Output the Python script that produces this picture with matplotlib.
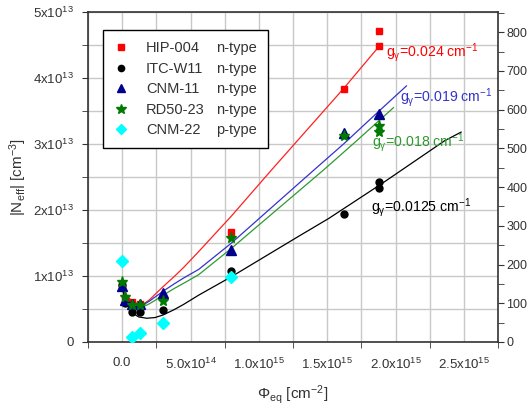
import matplotlib
matplotlib.use("Agg")
import matplotlib.pyplot as plt
from matplotlib.lines import Line2D
from matplotlib.ticker import MultipleLocator, FixedLocator, FixedFormatter

plt.rcParams["font.family"] = ["Liberation Sans", "DejaVu Sans"]
plt.rcParams["mathtext.fontset"] = "custom"
plt.rcParams["mathtext.rm"] = "Liberation Sans"
plt.rcParams["mathtext.it"] = "Liberation Sans:italic"
plt.rcParams["mathtext.default"] = "rm"

# measured points (fluence in cm^-2, |Neff| in cm^-3)
hip_x = [0, 2e13, 7e13, 1.3e14, 3.0e14, 8.0e14, 1.62e15, 1.88e15, 1.88e15]
hip_y = [0.87e13, 0.66e13, 0.60e13, 0.58e13, 0.68e13, 1.67e13, 3.84e13, 4.48e13, 4.71e13]

itc_x = [0, 2e13, 7e13, 1.3e14, 3.0e14, 8.0e14, 1.62e15, 1.88e15, 1.88e15]
itc_y = [0.86e13, 0.59e13, 0.46e13, 0.46e13, 0.49e13, 1.07e13, 1.94e13, 2.34e13, 2.42e13]

cnm11_x = [0, 2e13, 7e13, 1.3e14, 3.0e14, 8.0e14, 1.62e15, 1.88e15]
cnm11_y = [0.85e13, 0.64e13, 0.57e13, 0.57e13, 0.74e13, 1.40e13, 3.17e13, 3.45e13]

rd50_x = [0, 2e13, 7e13, 1.3e14, 3.0e14, 8.0e14, 1.62e15, 1.88e15, 1.88e15]
rd50_y = [0.91e13, 0.68e13, 0.56e13, 0.56e13, 0.62e13, 1.57e13, 3.12e13, 3.27e13, 3.18e13]

cnm22_x = [0, 7e13, 1.3e14, 3.0e14, 8.0e14]
cnm22_y = [1.23e13, 0.08e13, 0.14e13, 0.29e13, 0.98e13]

# fitted curves
fit_red_x = [0, 3e13, 7e13, 1.2e14, 1.6e14, 2.0e14, 2.4e14, 3.0e14, 3.8e14, 4.5e14, 5.6e14, 8.0e14, 1.09e15, 1.62e15, 1.88e15]
fit_red_y = [0.88e13, 0.72e13, 0.62e13, 0.57e13, 0.58e13, 0.64e13, 0.72e13, 0.84e13, 0.99e13, 1.13e13, 1.37e13, 1.91e13, 2.60e13, 3.84e13, 4.48e13]

fit_blue_x = [0, 3e13, 7e13, 1.2e14, 1.6e14, 2.0e14, 2.4e14, 3.0e14, 3.8e14, 4.5e14, 5.6e14, 8.0e14, 1.40e15, 1.62e15, 1.88e15, 2.08e15]
fit_blue_y = [0.85e13, 0.70e13, 0.60e13, 0.56e13, 0.57e13, 0.62e13, 0.68e13, 0.77e13, 0.88e13, 0.97e13, 1.10e13, 1.50e13, 2.60e13, 3.00e13, 3.50e13, 3.88e13]

fit_green_x = [0, 3e13, 7e13, 1.2e14, 1.6e14, 2.0e14, 2.4e14, 3.0e14, 3.8e14, 4.5e14, 5.6e14, 8.0e14, 1.47e15, 1.70e15, 1.985e15]
fit_green_y = [0.90e13, 0.70e13, 0.58e13, 0.53e13, 0.54e13, 0.58e13, 0.63e13, 0.71e13, 0.81e13, 0.89e13, 1.02e13, 1.42e13, 2.60e13, 3.02e13, 3.55e13]

fit_black_x = [0, 2e13, 7e13, 1.2e14, 1.8e14, 2.4e14, 3.0e14, 3.8e14, 4.5e14, 5.6e14, 8.0e14, 1.29e15, 1.51e15, 1.90e15, 2.36e15, 2.48e15]
fit_black_y = [0.86e13, 0.62e13, 0.45e13, 0.38e13, 0.36e13, 0.37e13, 0.41e13, 0.49e13, 0.57e13, 0.71e13, 0.99e13, 1.60e13, 1.87e13, 2.40e13, 3.05e13, 3.18e13]

names = ["HIP-004", "ITC-W11", "CNM-11", "RD50-23", "CNM-22"]
types = ["n-type", "n-type", "n-type", "n-type", "p-type"]

fig = plt.figure(figsize=(5.29, 4.09), dpi=100)
ax = fig.add_axes([88 / 529, 1 - 342 / 409, 410 / 529, 330 / 409])

ax.set_xlim(-2.5e14, 2.75e15)
ax.set_ylim(0, 5e13)
ax.grid(True, which="both", color="#c8c8c8", linewidth=1.0, zorder=0)
ax.set_axisbelow(True)

ax.plot(fit_red_x, fit_red_y, color="#ff2020", lw=0.9, zorder=2)
ax.plot(fit_blue_x, fit_blue_y, color="#3333cc", lw=0.9, zorder=2)
ax.plot(fit_green_x, fit_green_y, color="#2e9a2e", lw=0.9, zorder=2)
ax.plot(fit_black_x, fit_black_y, color="black", lw=0.9, zorder=2)

m_hip, = ax.plot(hip_x, hip_y, "s", color="red", ms=5, ls="none", zorder=3)
m_itc, = ax.plot(itc_x, itc_y, "o", color="black", ms=5, ls="none", zorder=3)
m_cnm11, = ax.plot(cnm11_x, cnm11_y, "^", color="#00008b", ms=7, ls="none", zorder=3)
m_rd50, = ax.plot(rd50_x, rd50_y, "*", color="#007a00", ms=8, ls="none", zorder=4)
m_cnm22, = ax.plot(cnm22_x, cnm22_y, "D", color="cyan", ms=6, ls="none", zorder=3)

ax.text(1.93e15, 4.38e13, "g$_{\u03b3}$=0.024 cm$^{-1}$", color="#ff0000", fontsize=10.2, va="center")
ax.text(2.03e15, 3.70e13, "g$_{\u03b3}$=0.019 cm$^{-1}$", color="#3333cc", fontsize=10.2, va="center")
ax.text(1.83e15, 3.02e13, "g$_{\u03b3}$=0.018 cm$^{-1}$", color="#2e9a2e", fontsize=10.2, va="center")
ax.text(1.82e15, 2.04e13, "g$_{\u03b3}$=0.0125 cm$^{-1}$", color="black", fontsize=10.2, va="center")

# x ticks
xmaj = [0, 5e14, 1e15, 1.5e15, 2e15, 2.5e15]
xlab = ["0.0", "5.0x10$^{14}$", "1.0x10$^{15}$", "1.5x10$^{15}$", "2.0x10$^{15}$", "2.5x10$^{15}$"]
ax.xaxis.set_major_locator(FixedLocator(xmaj))
ax.xaxis.set_major_formatter(FixedFormatter(xlab))
ax.xaxis.set_minor_locator(FixedLocator([-2.5e14, 2.5e14, 7.5e14, 1.25e15, 1.75e15, 2.25e15, 2.75e15]))

ymaj = [0, 1e13, 2e13, 3e13, 4e13, 5e13]
ylab = ["0", "1x10$^{13}$", "2x10$^{13}$", "3x10$^{13}$", "4x10$^{13}$", "5x10$^{13}$"]
ax.yaxis.set_major_locator(FixedLocator(ymaj))
ax.yaxis.set_major_formatter(FixedFormatter(ylab))
ax.yaxis.set_minor_locator(MultipleLocator(0.5e13))

ax.tick_params(axis="x", which="major", direction="in", length=0, labelsize=9.5, pad=11, colors="#333333")
ax.tick_params(axis="x", which="minor", direction="out", length=4, color="#333333")
ax.tick_params(axis="y", which="both", direction="out", length=4, labelsize=9.5, pad=6, colors="#333333")
for s in ax.spines.values():
    s.set_color("#333333")
    s.set_linewidth(1.2)

ax2 = ax.twinx()
ax2.set_ylim(0, 852)
ax2.yaxis.set_major_locator(MultipleLocator(100))
ax2.yaxis.set_minor_locator(MultipleLocator(50))
ax2.tick_params(axis="y", which="both", direction="out", length=4, labelsize=9, pad=2, colors="#333333")
for s in ax2.spines.values():
    s.set_visible(False)

ax.set_xlabel("\u03a6$_{eq}$ [cm$^{-2}$]", fontsize=11, labelpad=8, color="#333333")
ax.set_ylabel("|N$_{eff}$| [cm$^{-3}$]", fontsize=11, labelpad=3, color="#333333")

blank = Line2D([], [], ls="none", marker="none")
handles = [m_hip, m_itc, m_cnm11, m_rd50, m_cnm22] + [blank] * 5
labels = names + types
leg = ax.legend(handles, labels, ncol=2, loc="upper left", bbox_to_anchor=(0.036, 0.945),
                borderaxespad=0, fontsize=10.5, handlelength=1.0, handletextpad=1.2,
                columnspacing=-1.4, labelspacing=0.45, borderpad=0.75, fancybox=False,
                framealpha=1, edgecolor="black", markerscale=0.9)
leg.get_frame().set_linewidth(1.0)
for t in leg.get_texts():
    t.set_color("#333333")

fig.savefig("out.png", dpi=100)
